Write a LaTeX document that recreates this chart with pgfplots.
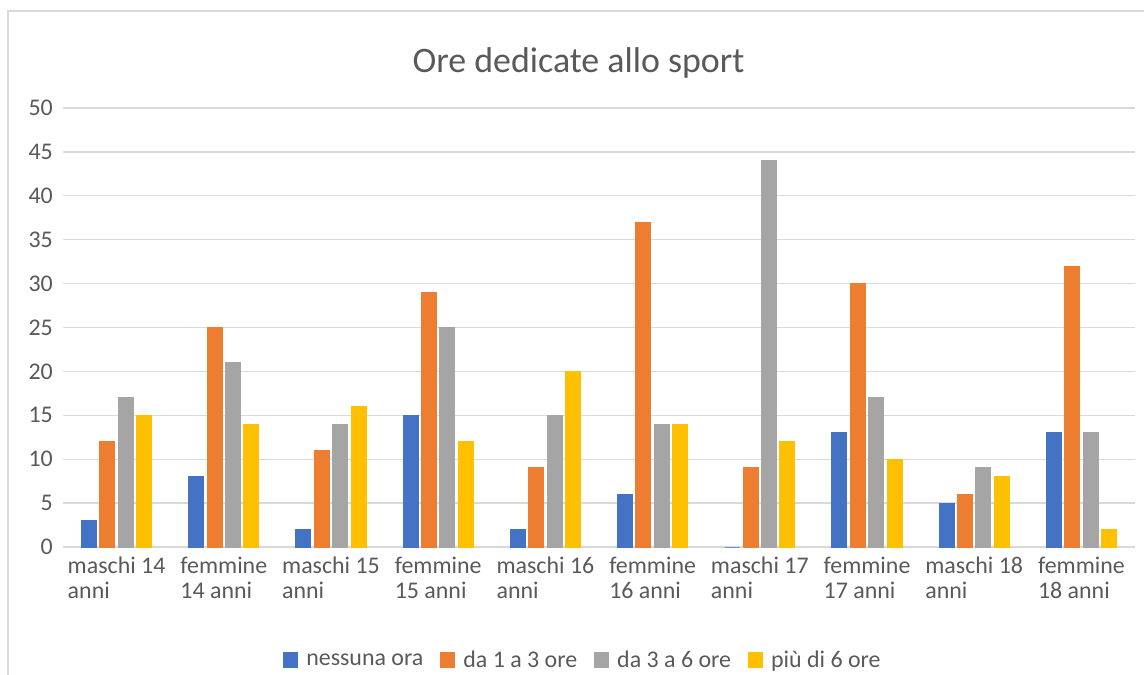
\documentclass[border=0pt]{standalone}
\usepackage{pgfplots}
\pgfplotsset{compat=1.18}
\usepackage{fontspec}
\setmainfont{Carlito}
\definecolor{cBlue}{HTML}{4472C4}
\definecolor{cOrange}{HTML}{ED7D31}
\definecolor{cGrey}{HTML}{A5A5A5}
\definecolor{cYellow}{HTML}{FFC000}
\definecolor{gridc}{HTML}{D9D9D9}
\definecolor{textgrey}{HTML}{595959}
\begin{document}
\begin{tikzpicture}
\path[use as bounding box] (0,0) rectangle (1144bp,675bp);
\draw[color=gridc, line width=1.3bp] (8bp,0bp) -- (8bp,664bp) -- (1144bp,664bp);
\node[anchor=base, text=textgrey, font=\fontsize{36}{42}\selectfont, inner sep=0pt] at (578.5bp,602.3bp) {Ore dedicate allo sport};
\begin{axis}[
  at={(63bp,128bp)}, anchor=south west,
  scale only axis, width=1072bp, height=439bp,
  clip=false,
  ybar=3.4bp, bar width=15bp,
  xmin=-0.5, xmax=9.5, ymin=0, ymax=50,
  ytick={0,5,...,50},
  xtick={0,...,9},
  xticklabels={{maschi 14\\anni},{femmine\\14 anni},{maschi 15\\anni},{femmine\\15 anni},{maschi 16\\anni},{femmine\\16 anni},{maschi 17\\anni},{femmine\\17 anni},{maschi 18\\anni},{femmine\\18 anni}},
  ymajorgrids, grid style={line width=1.3bp, gridc},
  axis line style={draw=none},
  major tick length=0pt,
  /pgf/number format/assume math mode=true,
  tick label style={font=\fontsize{24}{25}\selectfont, text=textgrey},
  yticklabel style={inner sep=0pt, anchor=east, xshift=-10bp},
  xticklabel style={inner sep=0pt, anchor=north, align=left, yshift=-10bp},
  legend columns=4,
  legend style={at={(0.4841,-0.2574)}, anchor=center, draw=none, fill=none,
    font=\fontsize{24}{25}\selectfont, text=textgrey,
    nodes={inner sep=0pt},
    /tikz/every odd column/.append style={column sep=8bp},
    /tikz/every even column/.append style={column sep=17bp}},
  legend image code/.code={\fill[#1] (0bp,-7bp) rectangle (14bp,7bp);},
]
\addplot[fill=cBlue, draw=cBlue, line width=1bp] coordinates {(0,3) (1,8) (2,2) (3,15) (4,2) (5,6) (6,0) (7,13) (8,5) (9,13)};
\addplot[fill=cOrange, draw=cOrange, line width=1bp] coordinates {(0,12) (1,25) (2,11) (3,29) (4,9) (5,37) (6,9) (7,30) (8,6) (9,32)};
\addplot[fill=cGrey, draw=cGrey, line width=1bp] coordinates {(0,17) (1,21) (2,14) (3,25) (4,15) (5,14) (6,44) (7,17) (8,9) (9,13)};
\addplot[fill=cYellow, draw=cYellow, line width=1bp] coordinates {(0,15) (1,14) (2,16) (3,12) (4,20) (5,14) (6,12) (7,10) (8,8) (9,2)};
\legend{nessuna ora, da 1 a 3 ore, da 3 a 6 ore, più di 6 ore}
\end{axis}
\end{tikzpicture}
\end{document}
